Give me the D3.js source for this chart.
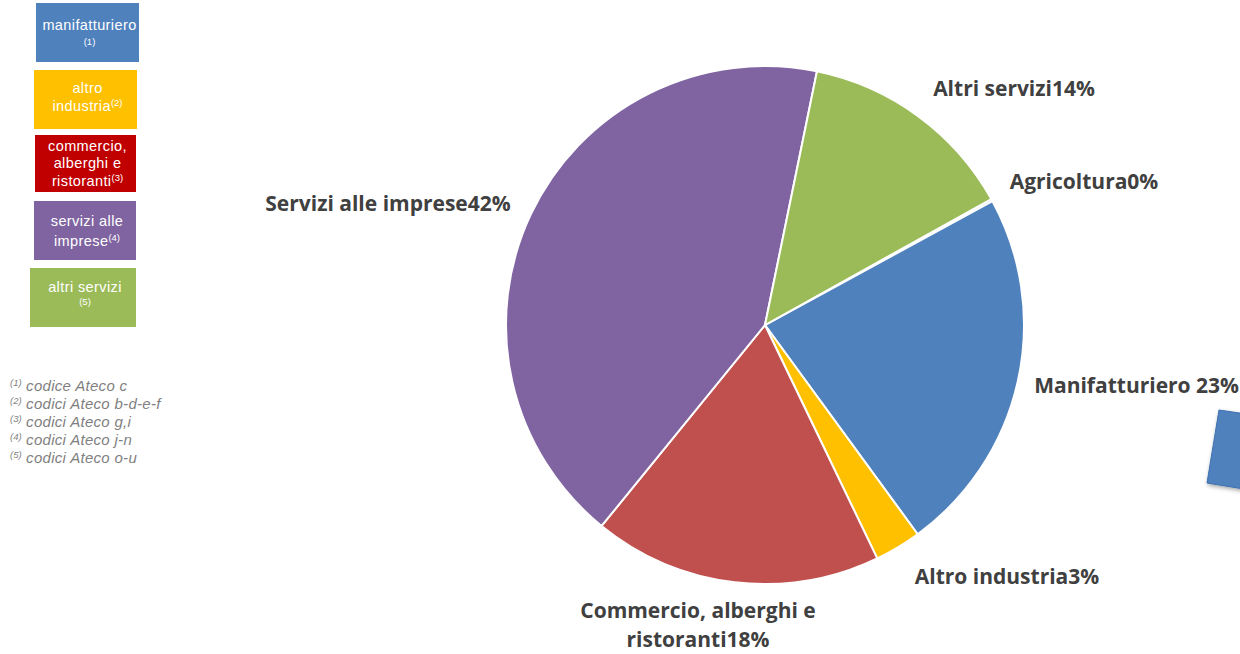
<!DOCTYPE html>
<html><head><meta charset="utf-8">
<script src="https://cdn.jsdelivr.net/npm/d3@7"></script>
<style>body{margin:0;background:#fff}svg{display:block}</style>
</head><body>
<script>
// Data
const categories = ["Agricoltura","Manifatturiero","Altro industria","Commercio, alberghi e ristoranti","Servizi alle imprese","Altri servizi"];
const values = [0.15, 22.9, 2.9, 18.0, 42.35, 13.7];
const pctLabels = ["0%","23%","3%","18%","42%","14%"];
const labelLines = [["Agricoltura0%"],["Manifatturiero 23%"],["Altro industria3%"],["Commercio, alberghi e","ristoranti18%"],["Servizi alle imprese42%"],["Altri servizi14%"]];
const colors = ["#4F81BD","#4F81BD","#FFC000","#C0504D","#8064A2","#9BBB59"];
const legendItems = [
  {lines:[["manifatturiero",""],["","(1)"]], color:"#4F81BD"},
  {lines:[["altro",""],["industria","(2)"]], color:"#FFC000"},
  {lines:[["commercio,",""],["alberghi e",""],["ristoranti","(3)"]], color:"#C00000"},
  {lines:[["servizi alle",""],["imprese","(4)"]], color:"#8064A2"},
  {lines:[["altri servizi",""],["","(5)"]], color:"#9BBB59"}
];
const footnotes = [["(1)","codice Ateco c"],["(2)","codici Ateco b-d-e-f"],["(3)","codici Ateco g,i"],["(4)","codici Ateco j-n"],["(5)","codici Ateco o-u"]];

const W=1240,H=654;
const svg=d3.select("body").append("svg").attr("width",W).attr("height",H);

// Pie
const cx=765, cy=325, r=259;
const start = 60.9*Math.PI/180;
const pie=d3.pie().sort(null).value(d=>d).startAngle(start).endAngle(start+2*Math.PI);
const arcs=pie(values);
const arc=d3.arc().innerRadius(0).outerRadius(r);
const g=svg.append("g").attr("transform",`translate(${cx},${cy})`);
g.selectAll("path").data(arcs).join("path")
  .attr("d",arc).attr("fill",(d,i)=>colors[i])
  .attr("stroke","#fff").attr("stroke-width",2).attr("stroke-linejoin","round");

// Data labels (positions: Excel best-fit placement relative to pie centre)
const labelLayout=[
  {dx:319, dy:-143, anchor:"middle"},
  {dx:474, dy:61, anchor:"end"},
  {dx:242, dy:252, anchor:"middle"},
  {dx:-67, dy:300, anchor:"middle"},
  {dx:-377, dy:-121, anchor:"middle"},
  {dx:249, dy:-236, anchor:"middle"}
];
const lg=svg.append("g").attr("font-family","'Open Sans', Lato, sans-serif").attr("font-weight","bold").attr("font-size",21).attr("fill","#404040");
arcs.forEach((a,i)=>{
  const L=labelLayout[i];
  const lines=labelLines[i];
  const t=lg.append("text").attr("text-anchor",L.anchor);
  lines.forEach((ln,j)=>{
    t.append("tspan").attr("x",cx+L.dx).attr("y",cy+L.dy+7+(j-(lines.length-1)/2)*29).text(ln);
  });
});

// Decorative blue shape (bottom right)
const defs=svg.append("defs");
const f=defs.append("filter").attr("id","sh").attr("x","-20%").attr("y","-20%").attr("width","150%").attr("height","150%");
f.append("feDropShadow").attr("dx",1).attr("dy",2).attr("stdDeviation",2).attr("flood-color","#000").attr("flood-opacity",0.35);
svg.append("polygon").attr("points","1219,410 1260,416 1250,490 1207,483")
  .attr("fill","#4F81BD").attr("stroke","#3d6fb0").attr("stroke-width",1).attr("filter","url(#sh)");

// Legend boxes
const boxes=[{x:36,y:3,w:103,h:59},{x:34,y:70,w:103,h:59},{x:35,y:135,w:101,h:57},{x:34,y:201,w:102,h:59},{x:30,y:268,w:106,h:59}];
const lineYs=[[30,45],[93,111],[151,168,186],[226,246],[292,305]];
legendItems.forEach((it,i)=>{
  const b=boxes[i];
  svg.append("rect").attr("x",b.x).attr("y",b.y).attr("width",b.w).attr("height",b.h).attr("fill",it.color);
  it.lines.forEach((ln,j)=>{
    const t=svg.append("text").attr("x",b.x+b.w/2+2).attr("y",lineYs[i][j])
      .attr("text-anchor","middle").attr("font-family","'Liberation Sans', Arial, sans-serif")
      .attr("font-size",14.5).attr("fill","#fff").attr("letter-spacing",0.4);
    if(ln[0]) t.append("tspan").text(ln[0]);
    if(ln[1]){
      if(ln[0]) t.append("tspan").attr("font-size",9.5).attr("dy",-5).attr("letter-spacing",0).text(ln[1]);
      else t.append("tspan").attr("font-size",9.5).attr("letter-spacing",0).text(ln[1]);
    }
  });
});

// Footnotes
footnotes.forEach((fn,i)=>{
  const t=svg.append("text").attr("x",10).attr("y",391+i*18)
    .attr("font-family","'Liberation Sans', Arial, sans-serif").attr("font-style","italic")
    .attr("font-size",15).attr("fill","#7F7F7F").attr("letter-spacing",0.3);
  t.append("tspan").attr("font-size",9.5).attr("dy",-5).attr("letter-spacing",0).text(fn[0]);
  t.append("tspan").attr("dy",5).text(" "+fn[1]);
});
</script>
</body></html>
